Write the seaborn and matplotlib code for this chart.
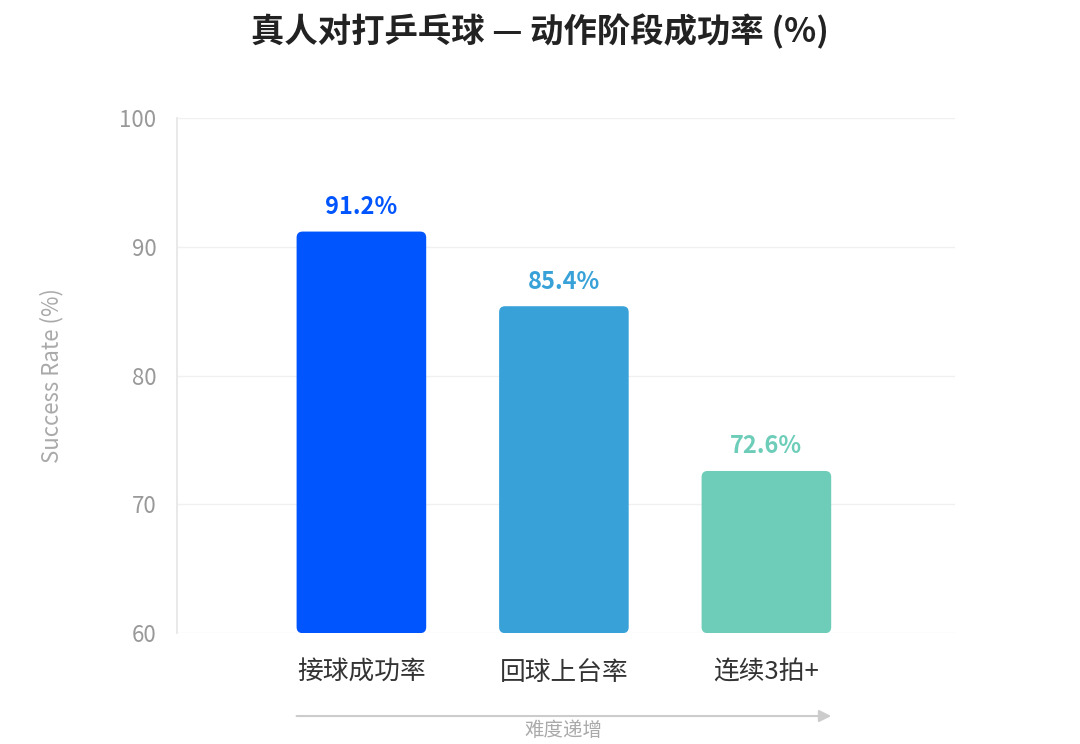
import numpy as np
import pandas as pd
import matplotlib
matplotlib.use("Agg")
import matplotlib.pyplot as plt
import seaborn as sns
from matplotlib.patches import FancyBboxPatch

categories = ["接球成功率", "回球上台率", "连续3拍+"]
rates = [91.2, 85.4, 72.6]
colors = ["#0055FF", "#38A2D8", "#6DCDB8"]
yticks = [60, 70, 80, 90, 100]

sns.set_theme(style="white")
plt.rcParams['font.family'] = ['Noto Sans CJK SC', 'DejaVu Sans']

df = pd.DataFrame({"stage": categories, "rate": rates})

fig = plt.figure(figsize=(10.8, 7.44), dpi=100)
ax = fig.add_axes([0.164, 0.149, 0.720, 0.692])

sns.barplot(data=df, x="stage", y="rate", hue="stage", palette=colors,
            width=0.64, legend=False, ax=ax)

ax.set_ylim(60, 100)
ax.set_xlim(-0.91, 2.93)

# swap plain bars for rounded ones
x_px = 0.720 * 1080 / 3.84
y_px = 0.692 * 744 / 40
aspect = x_px / y_px
r = 6 / x_px
for p, c in zip(list(ax.patches), colors):
    x0, w, h = p.get_x(), p.get_width(), p.get_height()
    p.remove()
    box = FancyBboxPatch((x0, 60), w, h - 60,
                         boxstyle=f"round,pad=0,rounding_size={r}",
                         mutation_aspect=aspect, fc=c, ec="none", zorder=3)
    ax.add_patch(box)
    ax.annotate(f"{h:.1f}%", (x0 + w / 2, h), xytext=(0, 9),
                textcoords="offset points", ha="center", va="bottom",
                fontsize=17, fontweight="bold", color=c)

ax.set_yticks(yticks)
ax.grid(axis="y", color="#f0f0f0", lw=1)
ax.set_axisbelow(True)
for s in ["top", "right", "bottom"]:
    ax.spines[s].set_visible(False)
ax.spines["left"].set_color("#e6e6e6")
ax.tick_params(axis="y", length=0, pad=15, labelsize=16, labelcolor="#999999")
ax.tick_params(axis="x", length=0, pad=19, labelsize=18.5, labelcolor="#333333")
ax.set_xlabel("")
ax.set_ylabel("Success Rate (%)", fontsize=16, color="#aaaaaa", labelpad=40)

# difficulty arrow
ax.annotate("", xy=(2.32, -0.161), xytext=(-0.32, -0.161),
            xycoords=("data", "axes fraction"),
            textcoords=("data", "axes fraction"),
            arrowprops=dict(arrowstyle="-|>", color="#cccccc", lw=1.5,
                            mutation_scale=18, shrinkA=0, shrinkB=0),
            annotation_clip=False)
ax.text(1, -0.19, "难度递增", transform=ax.get_xaxis_transform(),
        ha="center", va="center", fontsize=14, color="#aaaaaa")

fig.suptitle("真人对打乒乓球 — 动作阶段成功率 (%)", fontsize=24,
             fontweight="bold", color="#222222", y=0.982)

fig.savefig("out.png", dpi=100)
